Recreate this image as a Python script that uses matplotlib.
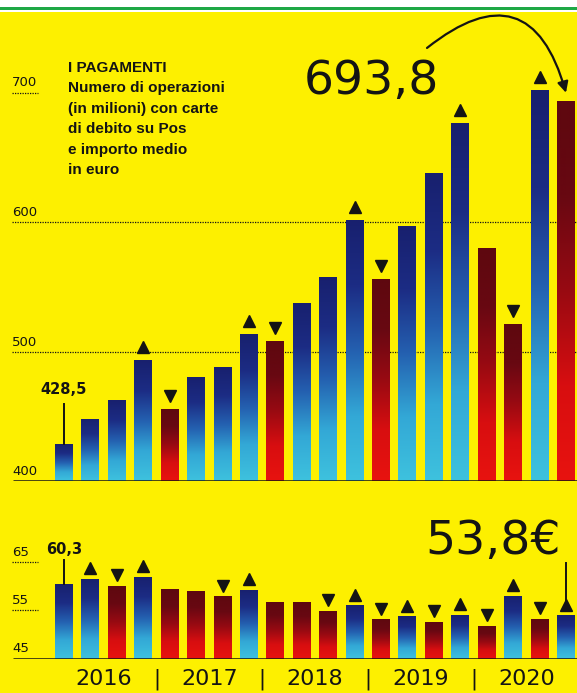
import numpy as np
import matplotlib
matplotlib.use("Agg")
import matplotlib.pyplot as plt
from matplotlib.colors import LinearSegmentedColormap
from matplotlib.patches import Rectangle

# Debit card POS payments, quarterly 2016-2020
years = ['2016', '2017', '2018', '2019', '2020']
operazioni = [428.5, 447.9, 462.5, 493.4, 455.8, 480.5, 487.8, 513.5, 508.3, 537.7,
              557.8, 601.5, 556.0, 597.1, 637.6, 676.2, 579.7, 521.2, 701.9, 693.8]
importo = [60.3, 61.4, 60.0, 61.8, 59.2, 58.9, 57.8, 59.1, 56.6, 56.5,
           54.7, 55.9, 53.0, 53.6, 52.5, 53.9, 51.6, 57.9, 53.1, 53.8]
# '+' = blue bar, '-' = red bar
trend_op = ['+', '+', '+', '+', '-', '+', '+', '+', '-', '+',
            '+', '+', '-', '+', '+', '+', '-', '-', '+', '-']
trend_imp = ['+', '+', '-', '+', '-', '-', '-', '+', '-', '-',
             '-', '+', '-', '+', '-', '+', '-', '+', '-', '+']
marks_op = ['', '', '', '^', 'v', '', '', '^', 'v', '', '', '^', 'v', '', '', '^', '', 'v', '^', '']
marks_imp = ['', '^', 'v', '^', '', '', 'v', '^', '', '', 'v', '^', 'v', '^', 'v', '^', 'v', '^', 'v', '^']
ticks_op = [400, 500, 600, 700]
ticks_imp = [45, 55, 65]

YELLOW = '#fdf000'
INK = '#141414'
blue_cm = LinearSegmentedColormap.from_list(
    'blu', ['#3ec2de', '#33a8d6', '#2460b0', '#1c2c84', '#18206e'])
red_cm = LinearSegmentedColormap.from_list(
    'rosso', ['#e8130f', '#d80e10', '#980a12', '#680812', '#5e080f'])

W, H = 577, 693
fig = plt.figure(figsize=(W / 100, H / 100), dpi=100)
fig.patch.set_facecolor(YELLOW)

# background layer in pixel coordinates
bg = fig.add_axes([0, 0, 1, 1], zorder=0)
bg.set_xlim(0, W)
bg.set_ylim(H, 0)
bg.axis('off')
bg.add_patch(Rectangle((0, 0), W, 12, color='white', lw=0))
bg.add_patch(Rectangle((0, 7), W, 3, color='#1ea845', lw=0))

title = ['I PAGAMENTI', 'Numero di operazioni', '(in milioni) con carte',
         'di debito su Pos', 'e importo medio', 'in euro']
for i, line in enumerate(title):
    bg.text(68, 68 + i * 20.4, line, fontsize=11, fontweight='bold', color=INK,
            va='center', ha='left', family=['Liberation Sans'])

x = np.arange(len(operazioni))
bar_w = 0.68
step = 26.42
x0 = 64
xlim = (-x0 / step, (W - x0) / step)
x_left = (12 - x0) / step


def draw_bars(ax, vals, trend, base):
    bars = ax.bar(x, np.array(vals) - base, bottom=base, width=bar_w,
                  color='none', lw=0, zorder=2)
    grad = np.linspace(0, 1, 256).reshape(-1, 1)
    for b, t in zip(bars, trend):
        cm = blue_cm if t == '+' else red_cm
        im = ax.imshow(grad, extent=[b.get_x(), b.get_x() + b.get_width(), base, base + b.get_height()],
                       origin='lower', cmap=cm, aspect='auto', interpolation='bilinear', zorder=2)
        im.set_clip_path(b)


def draw_marks(ax, vals, marks, off):
    for xi, v, m in zip(x, vals, marks):
        if m:
            ax.plot(xi, v + off, marker=m, ms=8.5, color=INK, mec=INK, zorder=4, clip_on=False)


# ---- top panel: number of operations
px_op = 1.295
ax1 = fig.add_axes([0, (H - 481) / H, 1, (481 - 12) / H], zorder=1)
ax1.patch.set_alpha(0)
draw_bars(ax1, operazioni, trend_op, 400)
draw_marks(ax1, operazioni, marks_op, 10)
for t in ticks_op:
    if t in (500, 600):
        ax1.plot([x_left, xlim[1]], [t, t], ls=(0, (1, 1)), lw=0.9, color=INK, zorder=1)
    elif t == 700:
        ax1.plot([x_left, (38 - x0) / step], [t, t], ls=(0, (1, 1)), lw=0.9, color=INK, zorder=1)
    ax1.text(x_left, t + 3 / px_op, str(t), fontsize=9.5, color=INK, ha='left', va='bottom')
ax1.plot([(13 - x0) / step, xlim[1]], [400, 400], color=INK, lw=1.8, zorder=3,
         solid_capstyle='butt')

ax1.text(0, 471, '428,5', fontsize=10.5, fontweight='bold', color=INK, ha='center', va='center')
ax1.plot([0, 0], [459.5, operazioni[0]], color=INK, lw=1.4, zorder=4)

ax1.text(11.65, 698.8, '693,8', fontsize=34, color=INK, ha='center', va='baseline')
ax1.annotate('', xy=(19, operazioni[-1] + 6), xytext=(13.74, 734.4),
             arrowprops=dict(arrowstyle='-|>', connectionstyle='arc3,rad=-0.75',
                             lw=1.6, color=INK, mutation_scale=16, shrinkA=0, shrinkB=0),
             annotation_clip=False)
ax1.set_xlim(*xlim)
ax1.set_ylim(400, 400 + (481 - 12) / px_op)
ax1.axis('off')

# ---- bottom panel: average amount in euro
px_imp = 4.8
base_imp = 45 - 1.5 / px_imp
ax2 = fig.add_axes([0, (H - 659) / H, 1, (659 - 500) / H], zorder=1)
ax2.patch.set_alpha(0)
draw_bars(ax2, importo, trend_imp, base_imp)
draw_marks(ax2, importo, marks_imp, 2.2)
for t in ticks_imp:
    if t != 45:
        ax2.plot([x_left, (38 - x0) / step], [t, t], ls=(0, (1, 1)), lw=0.9, color=INK, zorder=1)
    ax2.text(x_left, t + 2 / px_imp, str(t), fontsize=9.5, color=INK, ha='left', va='bottom')
ax2.plot([(13 - x0) / step, xlim[1]], [base_imp, base_imp], color=INK, lw=1.8, zorder=3,
         solid_capstyle='butt')

ax2.text(0, 67.6, '60,3', fontsize=10.5, fontweight='bold', color=INK, ha='center', va='center')
ax2.plot([0, 0], [65.3, importo[0]], color=INK, lw=1.4, zorder=4)
ax2.text(16.25, 66.6, '53,8€', fontsize=34, color=INK, ha='center', va='baseline')
ax2.plot([19, 19], [64.7, importo[-1] + 2.2], color=INK, lw=1.4, zorder=4)

# year labels under each group of four quarters
y_lab = base_imp - 20 / px_imp
for k, yr in enumerate(years):
    ax2.text(4 * k + 1.5, y_lab, yr, fontsize=16, color=INK, ha='center', va='center', clip_on=False)
    if k:
        ax2.text(4 * k - 0.5, y_lab, '|', fontsize=15, color=INK, ha='center', va='center', clip_on=False)
ax2.set_xlim(*xlim)
ax2.set_ylim(base_imp, base_imp + (659 - 500) / px_imp)
ax2.axis('off')

fig.savefig('out.png', dpi=100, facecolor=YELLOW)
